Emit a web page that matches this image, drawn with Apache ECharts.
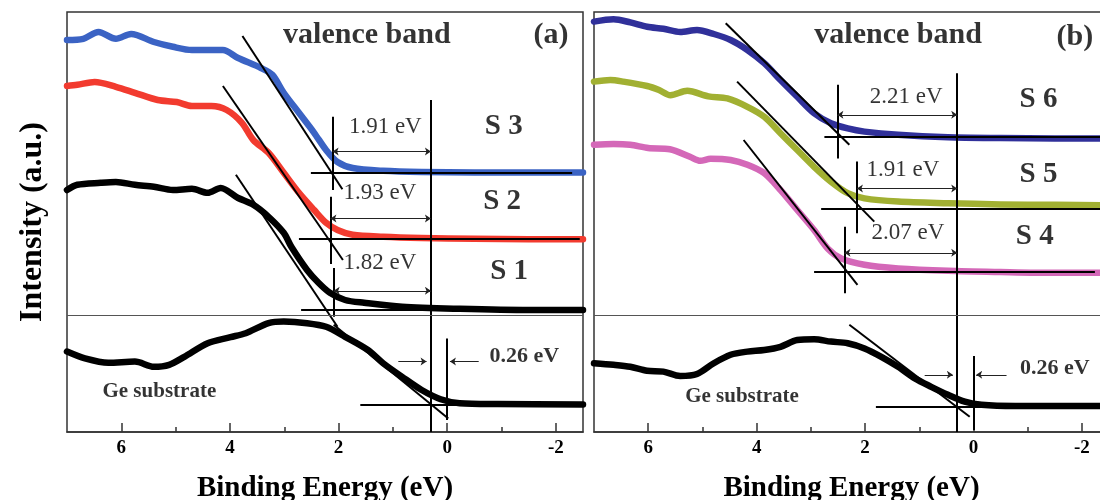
<!DOCTYPE html>
<html>
<head>
<meta charset="utf-8">
<script src="https://cdn.jsdelivr.net/npm/echarts@6/dist/echarts.min.js"></script>
<style>
  html, body { margin: 0; padding: 0; background: #fff; }
  #main { width: 1100px; height: 500px; }
</style>
</head>
<body>
<div id="main"></div>
<script>
// binding energy (eV) / intensity (a.u.)
const s3E = [7.0, 6.7, 6.42, 6.1, 5.82, 5.4, 5.05, 4.7, 4.27, 4.13, 3.85, 3.43, 3.22, 3.01, 2.73, 2.45, 2.23, 2.02, 1.74, 1.18, 0.47, -0.5, -1.5, -2.5];
const s3I = [98, 98.3, 100, 98.3, 99.5, 97.5, 96.3, 95.5, 95.5, 95.5, 93.5, 91, 89.3, 84.8, 79.8, 74.8, 70.5, 67.5, 66, 65.3, 65, 64.9, 64.9, 64.9];
const s2E = [7.0, 6.81, 6.49, 6.1, 5.75, 5.33, 4.98, 4.7, 4.34, 4.06, 3.78, 3.57, 3.29, 3.01, 2.73, 2.45, 2.23, 2.02, 1.74, 1.18, 0.47, -0.5, -1.5, -2.5];
const s2I = [86.5, 86.8, 87.5, 86.3, 84.8, 83, 82.5, 81.5, 81.5, 80.5, 77.3, 73, 69.8, 64.8, 59.8, 55.5, 52.3, 50.5, 49.3, 48.8, 48.5, 48.3, 48.2, 48.2];
const s1E = [7.0, 6.81, 6.38, 6.1, 5.75, 5.4, 5.05, 4.7, 4.41, 4.17, 3.85, 3.57, 3.29, 3.01, 2.87, 2.58, 2.37, 2.16, 1.88, 1.53, 0.83, -0.23, -1.5, -2.5];
const s1I = [60.5, 61.8, 62.3, 62.5, 61.8, 61.3, 60.5, 60.8, 59.8, 61, 58.5, 56.8, 53.8, 49.8, 46.3, 40.5, 37.3, 34.8, 33, 32.3, 31.3, 30.8, 30.5, 30.5];
const geAE = [7.0, 6.67, 6.24, 5.75, 5.4, 5.12, 4.84, 4.41, 3.99, 3.71, 3.29, 3.01, 2.58, 2.23, 1.88, 1.46, 1.18, 0.83, 0.47, 0.12, -0.23, -0.93, -2.5];
const geAI = [20.1, 18.4, 17.3, 17.6, 16.3, 16.8, 18.8, 22.2, 23.7, 24.7, 27.2, 27.6, 27.2, 26.3, 23.8, 20.5, 17.2, 13.8, 10.5, 8.2, 7.2, 7, 6.9];

const s6E = [7.0, 6.64, 6.33, 6.02, 5.72, 5.41, 5.1, 4.79, 4.48, 4.17, 3.86, 3.56, 3.25, 2.94, 2.63, 2.32, 2.01, 1.39, 0.47, -0.5, -1.5, -2.5];
const s6I = [102.6, 103.2, 102.4, 101.3, 100.8, 100, 100.5, 99.5, 98, 95.5, 92.2, 88, 83.8, 79.7, 77.2, 75.9, 75.1, 74.3, 73.7, 73.5, 73.4, 73.4];
const s5E = [7.0, 6.7, 6.46, 6.02, 5.8, 5.59, 5.28, 4.89, 4.54, 4.17, 3.86, 3.56, 3.25, 2.94, 2.63, 2.32, 2.01, 1.39, 0.47, -0.5, -1.5, -2.5];
const s5I = [87.6, 88, 87.6, 86.5, 85.5, 84.2, 85.3, 83.9, 83.4, 81.3, 78.8, 74.7, 70.5, 66.3, 62.6, 59.7, 58.4, 57.6, 57.2, 56.9, 56.8, 56.7];
const s4E = [7.0, 6.64, 6.33, 6.0, 5.6, 5.23, 5.04, 4.85, 4.48, 4.17, 3.86, 3.56, 3.25, 2.94, 2.69, 2.44, 2.01, 1.39, 0.47, -0.5, -1.5, -2.5];
const s4I = [71.8, 72, 71.8, 71, 70.7, 68.8, 67.8, 68.3, 68, 66.8, 64.7, 60.5, 55.5, 50.5, 45.9, 43.4, 41.8, 40.9, 40.3, 40, 39.8, 39.8];
const geBE = [7.0, 6.64, 6.33, 6.02, 5.72, 5.41, 5.1, 4.79, 4.48, 4.17, 3.86, 3.56, 3.25, 2.94, 2.63, 2.32, 2.01, 1.7, 1.39, 1.08, 0.78, 0.47, 0.16, -0.15, -0.77, -2.5];
const geBI = [17.2, 16.8, 16.3, 15.3, 15.1, 14, 14.5, 17.2, 19.3, 20.1, 20.5, 21.3, 23, 23.2, 22.6, 22.2, 20.9, 18.8, 16.3, 13.4, 11.3, 9.3, 7.6, 6.8, 6.5, 6.5];

const majorTicks = [6, 4, 2, 0, -2];
const minorTicks = [5, 3, 1, -1];
const fermiE = 0.3;

// tangent / baseline / marker lines, [E, I] pairs
const linesA = [
  [[3.77, 99], [1.93, 60.7]], [[2.51, 64.9], [-2.3, 64.9]], [[2.11, 78.8], [2.11, 60.5]],
  [[4.13, 86.5], [1.92, 43]], [[2.73, 48.2], [-2.44, 48.2]], [[2.15, 58.8], [2.15, 42]],
  [[3.89, 64.3], [2.02, 26.3]], [[2.69, 30.5], [-2.5, 30.5]], [[2.09, 41], [2.09, 28.8]],
  [[fermiE, 83], [fermiE, 0]],
  [[2.09, 26.8], [-0.02, 3.4]], [[1.6, 6.8], [-2.5, 6.8]], [[0, 23.4], [0, 3]]
];
const linesB = [
  [[4.57, 102.2], [2.29, 71.8]], [[2.75, 73.8], [-2.5, 73.8]], [[2.51, 86.8], [2.51, 68.4]],
  [[4.36, 87.6], [1.83, 52.6]], [[2.81, 55.9], [-2.5, 55.9]], [[2.15, 67.6], [2.15, 49.7]],
  [[4.24, 73], [2.14, 36.8]], [[2.94, 40.1], [-2.24, 40.1]], [[2.38, 51.3], [2.38, 34.7]],
  [[fermiE, 89.7], [fermiE, 0]],
  [[2.29, 26.8], [0.07, 3.8]], [[1.8, 6.3], [-2.5, 6.3]], [[0, 19], [0, 0.5]]
];
const separatorY = 29.1;
const gapArrowsA = [[[2.11, 70.1], [fermiE, 70.1]], [[2.15, 53.4], [fermiE, 53.4]], [[2.09, 35.3], [fermiE, 35.3]]];
const gapArrowsB = [[[2.51, 79.3], [fermiE, 79.3]], [[2.15, 60.9], [fermiE, 60.9]], [[2.38, 44.8], [fermiE, 44.8]]];
const geArrowsA = [[[0.9, 17.6], [0.38, 17.6]], [[-0.58, 17.6], [-0.05, 17.6]]];
const geArrowsB = [[[0.9, 14.3], [0.38, 14.3]], [[-0.61, 14.3], [-0.05, 14.3]]];

// [text, E, I, kind]
const labelsA = [
  ['valence band', 1.48, 99.3, 'title'], ['(a)', -1.91, 99.3, 'title'],
  ['1.91 eV', 1.14, 76.3, 'gap'], ['S 3', -1.04, 76.3, 'sample'],
  ['1.93 eV', 1.24, 59.7, 'gap'], ['S 2', -1.01, 57.6, 'sample'],
  ['1.82 eV', 1.24, 42.2, 'gap'], ['S 1', -1.14, 40, 'sample'],
  ['0.26 eV', -1.42, 18.8, 'ge'], ['Ge substrate', 5.3, 10.1, 'sub']
];
const labelsB = [
  ['valence band', 1.39, 99.3, 'title'], ['(b)', -1.87, 98.6, 'title'],
  ['2.21 eV', 1.24, 83.8, 'gap'], ['S 6', -1.2, 83, 'sample'],
  ['1.91 eV', 1.3, 65.5, 'gap'], ['S 5', -1.2, 64.3, 'sample'],
  ['2.07 eV', 1.21, 49.7, 'gap'], ['S 4', -1.13, 48.8, 'sample'],
  ['0.26 eV', -1.5, 15.9, 'ge'], ['Ge substrate', 4.27, 8.8, 'sub']
];

const FONT = "'Liberation Serif', 'DejaVu Serif', serif";
const labelStyles = {
  title: { fontSize: 30, fontWeight: 'bold' },
  gap: { fontSize: 23, fontWeight: 'normal' },
  sample: { fontSize: 29, fontWeight: 'bold' },
  ge: { fontSize: 22, fontWeight: 'bold' },
  sub: { fontSize: 21, fontWeight: 'bold' }
};

function zip(xs, ys) { return xs.map((x, i) => [x, ys[i]]); }

function curve(idx, xs, ys, color) {
  return {
    type: 'line', xAxisIndex: idx, yAxisIndex: idx,
    data: zip(xs, ys), showSymbol: false, smooth: 0.3,
    lineStyle: { color: color, width: 6.5, cap: 'round', join: 'round' },
    z: 2, silent: true
  };
}

function segs(idx, list, width, color, symbol) {
  return {
    type: 'lines', coordinateSystem: 'cartesian2d', xAxisIndex: idx, yAxisIndex: idx,
    data: list.map(c => ({ coords: c })),
    symbol: symbol || ['none', 'none'], symbolSize: 6,
    lineStyle: { color: color, width: width, opacity: 1 },
    z: 5, silent: true
  };
}

function texts(idx, list) {
  return {
    type: 'scatter', xAxisIndex: idx, yAxisIndex: idx, symbolSize: 1,
    itemStyle: { color: 'transparent' }, z: 6, silent: true,
    data: list.map(l => ({
      name: l[0], value: [l[1], l[2]],
      label: Object.assign({ show: true, position: 'inside', formatter: '{b}', color: '#000', fontFamily: FONT }, labelStyles[l[3]])
    }))
  };
}

function xAxes(gridIdx) {
  return [
    {
      type: 'value', gridIndex: gridIdx, min: -2.5, max: 7, inverse: true,
      name: 'Binding Energy (eV)', nameLocation: 'middle', nameGap: 42,
      nameTextStyle: { fontFamily: FONT, fontSize: 29, fontWeight: 'bold', color: '#000' },
      axisLine: { show: true, lineStyle: { color: '#333', width: 1.5 } },
      axisTick: { show: true, inside: true, length: 9, customValues: majorTicks, lineStyle: { color: '#333', width: 1.5 } },
      axisLabel: { show: true, customValues: majorTicks, margin: 7, fontFamily: FONT, fontSize: 19, fontWeight: 'bold', color: '#000' },
      splitLine: { show: false }
    },
    {
      type: 'value', gridIndex: gridIdx, min: -2.5, max: 7, inverse: true, position: 'bottom',
      axisLine: { show: false },
      axisTick: { show: true, inside: true, length: 5, customValues: minorTicks, lineStyle: { color: '#333', width: 1.5 } },
      axisLabel: { show: false },
      splitLine: { show: false }
    }
  ];
}

function yAxis(gridIdx, withName) {
  return {
    type: 'value', gridIndex: gridIdx, min: 0, max: 105,
    name: withName ? 'Intensity (a.u.)' : '', nameLocation: 'middle', nameGap: 18,
    nameTextStyle: { fontFamily: FONT, fontSize: 32, fontWeight: 'bold', color: '#000' },
    axisLine: { show: false }, axisTick: { show: false }, axisLabel: { show: false },
    splitLine: { show: false }
  };
}

const chart = echarts.init(document.getElementById('main'), null, { renderer: 'canvas' });

const xa = xAxes(0), xb = xAxes(1);

const option = {
  backgroundColor: '#fff',
  animation: false,
  grid: [
    { left: 67, top: 12, width: 516, height: 420, show: true, borderColor: '#333', borderWidth: 1.5, containLabel: false, outerBoundsMode: 'none' },
    { left: 594, top: 12, width: 515, height: 420, show: true, borderColor: '#333', borderWidth: 1.5, containLabel: false, outerBoundsMode: 'none' }
  ],
  xAxis: [xa[0], xb[0], xa[1], xb[1]].map((a, i) => Object.assign(a, { gridIndex: i % 2 })),
  yAxis: [yAxis(0, true), yAxis(1, false)],
  series: [
    curve(0, s3E, s3I, '#3b63c4'),
    curve(0, s2E, s2I, '#f23b2f'),
    curve(0, s1E, s1I, '#000'),
    curve(0, geAE, geAI, '#000'),
    curve(1, s6E, s6I, '#30309a'),
    curve(1, s5E, s5I, '#a1b032'),
    curve(1, s4E, s4I, '#d468b8'),
    curve(1, geBE, geBI, '#000'),
    segs(0, linesA, 2, '#000'),
    segs(1, linesB, 2, '#000'),
    segs(0, [[[7, separatorY], [-2.5, separatorY]]], 1, '#555'),
    segs(1, [[[7, separatorY], [-2.5, separatorY]]], 1, '#555'),
    segs(0, gapArrowsA, 1, '#222', ['arrow', 'arrow']),
    segs(1, gapArrowsB, 1, '#222', ['arrow', 'arrow']),
    segs(0, geArrowsA, 1, '#222', ['none', 'arrow']),
    segs(1, geArrowsB, 1, '#222', ['none', 'arrow']),
    texts(0, labelsA),
    texts(1, labelsB)
  ]
};
chart.setOption(option);
</script>
</body>
</html>
